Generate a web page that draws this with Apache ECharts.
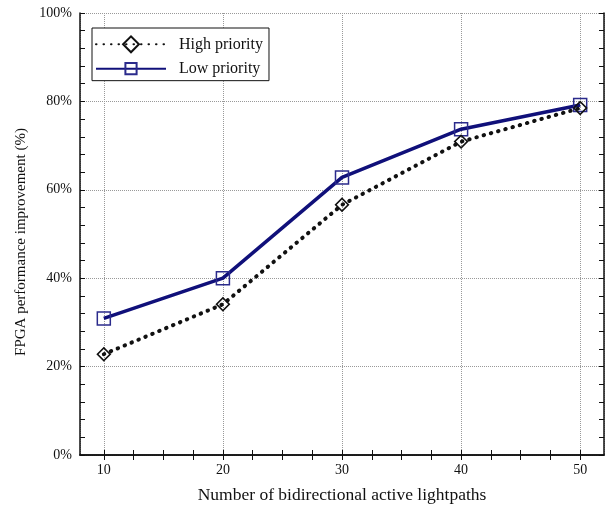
<!DOCTYPE html>
<html>
<head>
<meta charset="utf-8">
<script src="https://cdn.jsdelivr.net/npm/echarts@6/dist/echarts.min.js"></script>
<style>
html, body { margin: 0; padding: 0; background: #fff; }
#chart_id { width: 609px; height: 506px; }
</style>
</head>
<body>
<div id="chart_id"></div>
<script>
//横轴：双向活跃光路数
var lightpaths = [10, 20, 30, 40, 50];
var xLabelValues = [10, 20, 30, 40, 50];
var xTickValues = [10, 12.5, 15, 17.5, 20, 22.5, 25, 27.5, 30, 32.5, 35, 37.5, 40, 42.5, 45, 47.5, 50];
//性能提升（%）
var highPriority = [22.8, 34.1, 56.6, 70.9, 78.5];
var lowPriority = [30.9, 40.0, 62.8, 73.7, 79.2];
var seriesNames = ['High priority', 'Low priority'];

initChart();

function pairs(xs, ys) {
    var out = [];
    for (var i = 0, lens = xs.length; i < lens; i++) {
        out[i] = [xs[i], ys[i]];
    }
    return out;
}

function initChart() {
    var myChart = echarts.init(document.getElementById("chart_id"));
    var font = 'Liberation Serif';
    var tick = { show: true, inside: true, length: 5, lineStyle: { color: '#111', width: 1 } };
    var grid = { color: '#999', type: [1, 1], width: 1 };
    var option = {
        animation: false,
        backgroundColor: '#fff',
        textStyle: { fontFamily: font, color: '#111' },
        grid: { left: 80, right: 5, top: 13, bottom: 51, outerBoundsMode: 'none' },
        legend: {
            left: 92, top: 28,
            orient: 'vertical',
            data: seriesNames,
            itemWidth: 70, itemHeight: 14, itemGap: 7,
            padding: [7, 6, 4, 3],
            backgroundColor: '#fff',
            borderColor: '#111', borderWidth: 1,
            textStyle: { fontFamily: font, fontSize: 16, color: '#111', padding: [0, 0, 0, 8] }
        },
        xAxis: [{
            type: 'value', min: 8, max: 52,
            name: 'Number of bidirectional active lightpaths',
            nameLocation: 'middle', nameGap: 31,
            nameTextStyle: { fontFamily: font, fontSize: 17.5, color: '#111' },
            axisLine: { show: true, lineStyle: { color: '#111', width: 1.5 } },
            axisTick: Object.assign({ customValues: xTickValues }, tick),
            axisLabel: { customValues: xLabelValues, margin: 8, fontSize: 14, color: '#111', fontFamily: font },
            splitLine: { show: false }
        }, {
            type: 'value', min: 8, max: 52, position: 'top',
            axisLine: { show: true, lineStyle: { color: '#111', width: 1.5 } },
            axisTick: Object.assign({ customValues: xTickValues }, tick),
            axisLabel: { show: false },
            splitLine: { show: false }
        }, {
            //只用于网格线
            type: 'value', min: 8, max: 52, gridIndex: 0,
            axisLine: { show: false }, axisTick: { show: false }, axisLabel: { show: false },
            splitLine: { show: true, lineStyle: grid }
        }],
        yAxis: [{
            type: 'value', min: 0, max: 100, interval: 20,
            name: 'FPGA performance improvement (%)',
            nameLocation: 'middle', nameGap: 50,
            nameTextStyle: { fontFamily: font, fontSize: 15, color: '#111', padding: [0, 16, 0, 0] },
            axisLine: { show: true, lineStyle: { color: '#111', width: 1.5 } },
            axisTick: tick,
            minorTick: { show: true, splitNumber: 5, length: 5, lineStyle: { color: '#111', width: 1 } },
            axisLabel: { formatter: '{value}%', margin: 8, fontSize: 14, color: '#111', fontFamily: font },
            splitLine: { show: true, lineStyle: grid }
        }, {
            type: 'value', min: 0, max: 100, interval: 20, position: 'right',
            axisLine: { show: true, lineStyle: { color: '#111', width: 1.5 } },
            axisTick: tick,
            minorTick: { show: true, splitNumber: 5, length: 5, lineStyle: { color: '#111', width: 1 } },
            axisLabel: { show: false },
            splitLine: { show: false }
        }],
        series: [{
            name: seriesNames[0],
            type: 'line',
            data: pairs(lightpaths, highPriority),
            symbol: 'rect', symbolSize: 9, symbolRotate: 45,
            lineStyle: { color: '#111', width: 4, type: [0.5, 7], cap: 'round' },
            itemStyle: { color: 'rgba(255,255,255,0)', borderColor: '#111', borderWidth: 1.6 },
            z: 3
        }, {
            name: seriesNames[1],
            type: 'line',
            data: pairs(lightpaths, lowPriority),
            symbol: 'rect', symbolSize: 13,
            lineStyle: { color: '#10107a', width: 3.5 },
            itemStyle: { color: 'rgba(255,255,255,0)', borderColor: '#2b2b8c', borderWidth: 1.5 },
            z: 2
        }]
    };
    myChart.setOption(option, true);
}
</script>
</body>
</html>
